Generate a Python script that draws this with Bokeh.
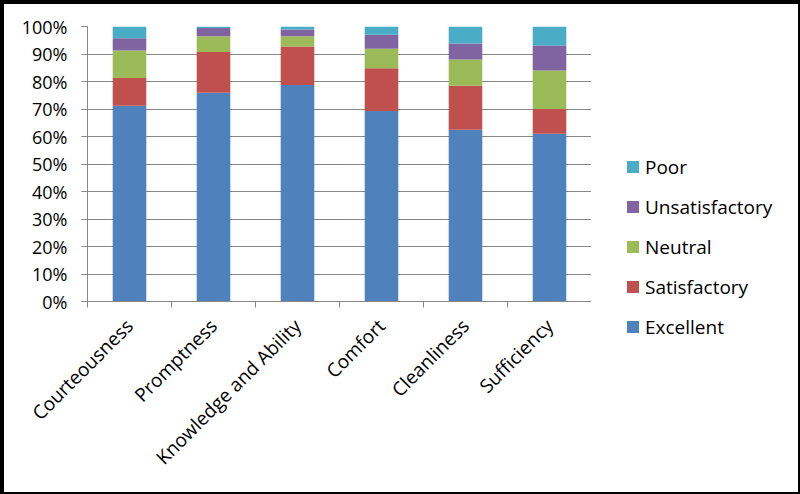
from bokeh.plotting import figure
from bokeh.layouts import row
from bokeh.models import (ColumnDataSource, FixedTicker, NumeralTickFormatter,
                          Range1d, Div)
from bokeh.embed import file_html
from bokeh.resources import INLINE

categories = ["Courteousness", "Promptness", "Knowledge and Ability",
              "Comfort", "Cleanliness", "Sufficiency"]
series = ["Excellent", "Satisfactory", "Neutral", "Unsatisfactory", "Poor"]
excellent = [71.2, 75.9, 78.7, 69.3, 62.5, 61.0]
satisfactory = [10.1, 14.8, 14.0, 15.5, 16.0, 9.0]
neutral = [10.0, 5.8, 3.8, 7.1, 9.5, 14.0]
unsatisfactory = [4.4, 3.0, 2.4, 5.1, 5.8, 9.1]
poor = [4.3, 0.5, 1.1, 3.0, 6.2, 6.9]
colors = ["#4F81BD", "#C0504D", "#9BBB59", "#8064A2", "#4BACC6"]
yticks = [0, 10, 20, 30, 40, 50, 60, 70, 80, 90, 100]

FONT = "Open Sans"
GRAY = "#868686"

xpos = [i + 1 for i in range(len(categories))]
data = {"x": xpos}
for name, vals in zip(series, [excellent, satisfactory, neutral, unsatisfactory, poor]):
    data[name] = [v / 100.0 for v in vals]
source = ColumnDataSource(data)

p = figure(width=587, height=478, output_backend="svg", toolbar_location=None,
           x_range=Range1d(0.5, len(categories) + 0.5), y_range=Range1d(0, 1),
           min_border_left=83, min_border_top=22, min_border_bottom=181,
           min_border_right=0)
p.outline_line_color = None
p.background_fill_color = "white"
p.border_fill_color = "white"

renderers = p.vbar_stack(series, x="x", width=0.4, color=colors, source=source,
                         line_color=None)

# y axis
p.yaxis.ticker = FixedTicker(ticks=[t / 100.0 for t in yticks])
p.yaxis.formatter = NumeralTickFormatter(format="0%")
p.yaxis.axis_line_color = GRAY
p.yaxis.major_tick_line_color = GRAY
p.yaxis.major_tick_out = 6
p.yaxis.major_tick_in = 0
p.yaxis.minor_tick_line_color = None
p.yaxis.major_label_text_font = FONT
p.yaxis.major_label_text_font_size = "18px"
p.yaxis.major_label_text_color = "black"
p.yaxis.major_label_standoff = 14

# x axis (category labels at bar centres, tick marks between categories)
p.xaxis.ticker = FixedTicker(ticks=xpos, minor_ticks=[x - 0.5 for x in xpos] + [xpos[-1] + 0.5])
p.xaxis.major_label_overrides = {x: c for x, c in zip(xpos, categories)}
p.xaxis.major_label_orientation = 0.785398
p.xaxis.axis_line_color = GRAY
p.xaxis.major_tick_line_color = None
p.xaxis.minor_tick_line_color = GRAY
p.xaxis.minor_tick_out = 6
p.xaxis.minor_tick_in = 0
p.xaxis.major_label_text_font = FONT
p.xaxis.major_label_text_font_size = "19px"
p.xaxis.major_label_text_color = "black"
p.xaxis.major_label_standoff = 15

p.xgrid.grid_line_color = None
p.ygrid.grid_line_color = GRAY
p.ygrid.ticker = FixedTicker(ticks=[t / 100.0 for t in yticks])

# legend (HTML text next to the plot, top entry = last series)
legend_html = ['<div style="position:relative;width:197px;height:478px;'
               'font-family:\'Open Sans\';font-size:19px;color:black;">']
for i, (name, col) in enumerate(reversed(list(zip(series, colors)))):
    cy = 158 + 40 * i
    legend_html.append(
        f'<div style="position:absolute;left:31px;top:{cy - 6}px;width:12px;'
        f'height:12px;background:{col};"></div>')
    legend_html.append(
        f'<div style="position:absolute;left:49px;top:{cy - 13}px;'
        f'line-height:26px;white-space:nowrap;">{name}</div>')
legend_html.append('</div>')
legend_div = Div(text="".join(legend_html), width=197, height=478,
                 styles={"background-color": "white"})

layout = row(p, legend_div, spacing=0)
layout.styles = {"border": "4px solid black", "background-color": "white"}

open("out.html", "w").write(file_html(layout, INLINE))
